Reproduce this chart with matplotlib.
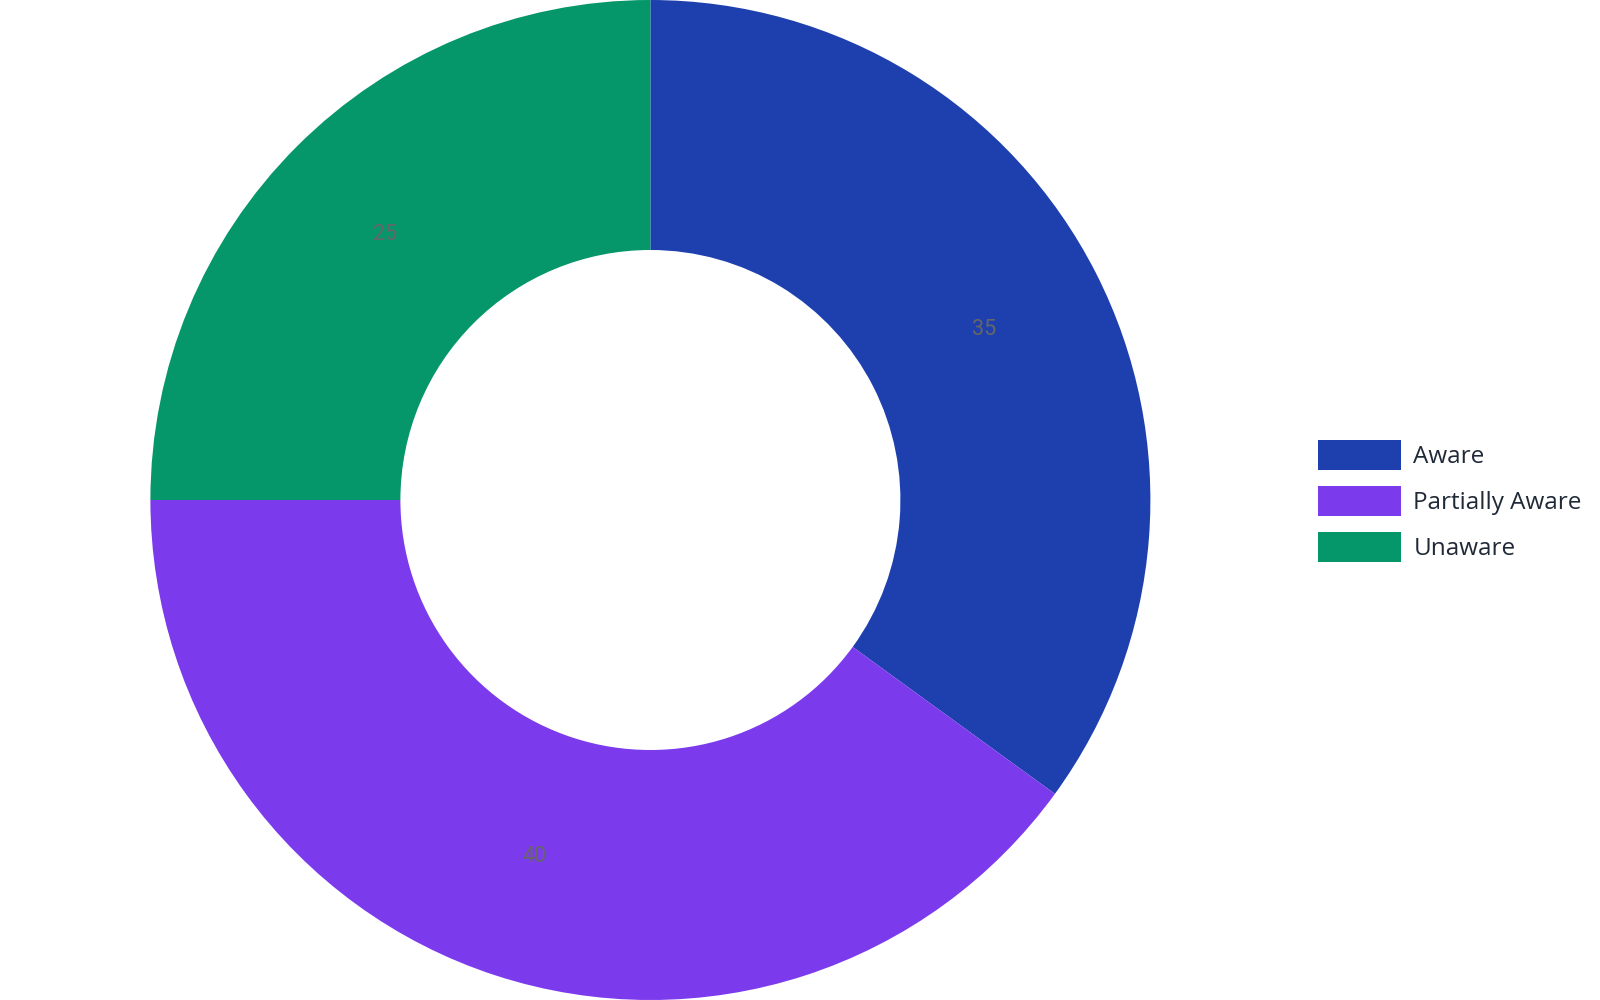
import matplotlib
matplotlib.use("Agg")
import matplotlib.pyplot as plt

categories = ["Aware", "Partially Aware", "Unaware"]
values = [35, 40, 25]
colors = ["#1e40af", "#7c3aed", "#059669"]

plt.rcParams['font.family'] = ['Open Sans', 'DejaVu Sans']

fig = plt.figure(figsize=(16, 10), dpi=100)
ax = fig.add_axes([0.094, 0.0, 0.625, 1.0])
wedges, texts, autotexts = ax.pie(
    values, colors=colors, startangle=90, counterclock=False,
    radius=1.0, wedgeprops=dict(width=0.5, linewidth=0),
    autopct=lambda p: f"{p * sum(values) / 100:.0f}", pctdistance=0.75,
    textprops=dict(color="#666666", fontsize=15.5, family=['Roboto', 'DejaVu Sans']))
ax.set_xlim(-1, 1)
ax.set_ylim(-1, 1)
ax.set_aspect('equal')
ax.axis('off')

leg = fig.legend(wedges, categories, loc='center left',
                 bbox_to_anchor=(0.816, 0.499), frameon=False,
                 fontsize=17.5, handlelength=3.43, handleheight=1.55,
                 handletextpad=0.5, labelspacing=0.64, borderpad=0)
for t in leg.get_texts():
    t.set_color("#1f2937")

fig.savefig("out.png", dpi=100, facecolor="white")
